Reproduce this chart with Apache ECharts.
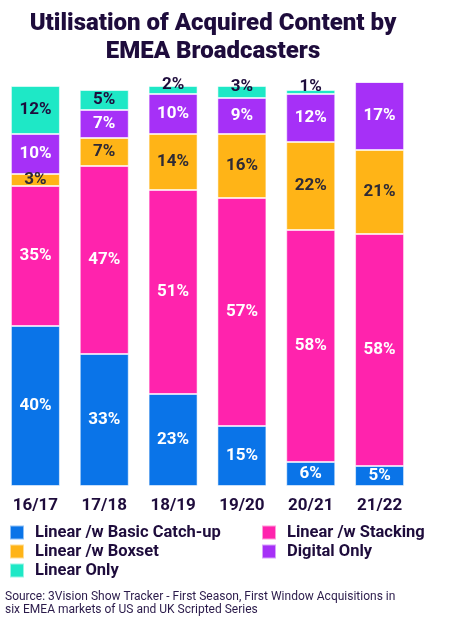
<!DOCTYPE html>
<html>
<head>
<meta charset="utf-8">
<script src="https://cdn.jsdelivr.net/npm/echarts@6/dist/echarts.min.js"></script>
<style>
html,body{margin:0;padding:0;background:#fff;}
#c{width:449px;height:622px;}
</style>
</head>
<body>
<div id="c"></div>
<script>
var categories = ['16/17', '17/18', '18/19', '19/20', '20/21', '21/22'];
var basicCatchup = [40, 33, 23, 15, 6, 5];
var stacking = [35, 47, 51, 57, 58, 58];
var boxset = [3, 7, 14, 16, 22, 21];
var digitalOnly = [10, 7, 10, 9, 12, 17];
var linearOnly = [12, 5, 2, 3, 1, 0];

var dark = '#1e0c3c';
var font = 'Roboto';

function mkSeries(name, values, color, labelColor, shiftSmall) {
  return {
    name: name,
    type: 'bar',
    stack: 'all',
    barWidth: 49,
    clip: false,
    itemStyle: { color: color, borderColor: 'rgba(255,255,255,0.55)', borderWidth: 1 },
    label: {
      show: true,
      position: 'inside',
      color: labelColor,
      fontFamily: font,
      fontWeight: 'bold',
      fontSize: 17,
      formatter: function (p) { return p.value ? p.value + '%' : ''; }
    },
    data: values.map(function (v) {
      if (shiftSmall && v > 0 && v <= 3) {
        return { value: v, label: { offset: [0, -5] } };
      }
      return v;
    })
  };
}

var chart = echarts.init(document.getElementById('c'));
chart.setOption({
  backgroundColor: '#fff',
  animation: false,
  title: [{
    text: 'Utilisation of Acquired Content by\nEMEA Broadcasters',
    left: 208,
    textAlign: 'center',
    top: 5,
    textStyle: { color: dark, fontFamily: font, fontWeight: 900, fontSize: 24, lineHeight: 28 }
  }, {
    text: 'Source: 3Vision Show Tracker - First Season, First Window Acquisitions in\nsix EMEA markets of US and UK Scripted Series',
    left: 5,
    top: 590,
    padding: 0,
    textStyle: { color: '#2a1a4a', fontFamily: font, fontWeight: 'normal', fontSize: 12, lineHeight: 13 }
  }],
  legend: [{
    orient: 'vertical',
    left: 9,
    top: 524,
    padding: 0,
    itemWidth: 14,
    itemHeight: 14,
    itemGap: 2,
    icon: 'rect',
    textStyle: { color: dark, fontFamily: font, fontWeight: 'bold', fontSize: 16.5, lineHeight: 16, padding: [0, 0, 0, 6] },
    data: ['Linear /w Basic Catch-up', 'Linear /w Boxset', 'Linear Only']
  }, {
    orient: 'vertical',
    left: 261,
    top: 524,
    padding: 0,
    itemWidth: 14,
    itemHeight: 14,
    itemGap: 2,
    icon: 'rect',
    textStyle: { color: dark, fontFamily: font, fontWeight: 'bold', fontSize: 16.5, lineHeight: 16, padding: [0, 0, 0, 6] },
    data: ['Linear /w Stacking', 'Digital Only']
  }],
  grid: { left: 1, width: 413, top: 86, height: 400, containLabel: false },
  xAxis: {
    type: 'category',
    data: categories,
    axisLine: { show: false },
    axisTick: { show: false },
    axisLabel: { color: dark, fontFamily: font, fontWeight: 'bold', fontSize: 17, margin: 11 }
  },
  yAxis: {
    type: 'value',
    min: 0,
    max: 100,
    show: false
  },
  series: [
    mkSeries('Linear /w Basic Catch-up', basicCatchup, '#0a74e8', '#ffffff', false),
    mkSeries('Linear /w Stacking', stacking, '#ff23ad', '#ffffff', false),
    mkSeries('Linear /w Boxset', boxset, '#ffb417', '#2e2a36', false),
    mkSeries('Digital Only', digitalOnly, '#a630f7', '#ffffff', false),
    mkSeries('Linear Only', linearOnly, '#1ee8c6', dark, true)
  ]
});
</script>
</body>
</html>
